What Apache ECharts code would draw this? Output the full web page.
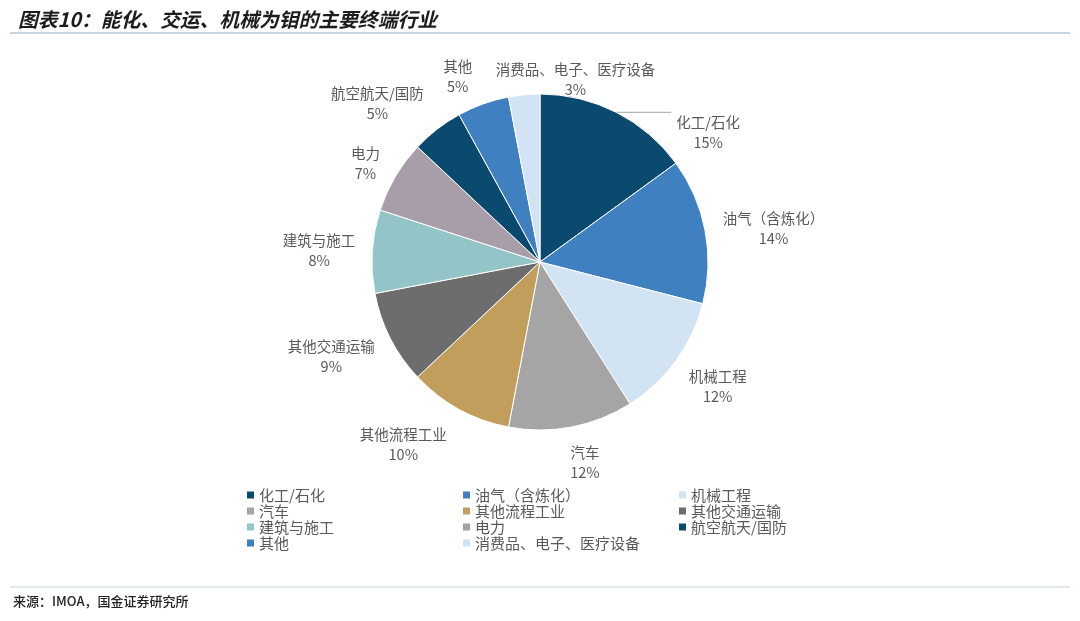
<!DOCTYPE html>
<html>
<head>
<meta charset="utf-8">
<script src="https://cdn.jsdelivr.net/npm/echarts@6/dist/echarts.min.js"></script>
<style>
  html, body { margin: 0; padding: 0; background: #fff; }
  #main { width: 1080px; height: 621px; }
</style>
</head>
<body>
<div id="main"></div>
<script>
var titleText = "图表10：能化、交运、机械为钼的主要终端行业";
var sourceText = "来源：IMOA，国金证券研究所";

var sectors = [
  "化工/石化", "油气（含炼化）", "机械工程", "汽车", "其他流程工业",
  "其他交通运输", "建筑与施工", "电力", "航空航天/国防", "其他",
  "消费品、电子、医疗设备"
];
var shares = [15, 14, 12, 12, 10, 9, 8, 7, 5, 5, 3];
var sectorColors = [
  "#0b4a6f", "#3f80c0", "#d2e4f3", "#a5a5a5", "#c29e5c",
  "#6d6d6d", "#92c4c8", "#a89ea9", "#0b4a6f", "#3f80c0",
  "#d2e4f3"
];
// how far each label sits from its slice: [length, length2]
var labelReach = [
  [0, 55], [13, 0], [43, -27], [36, -13], [40, -12],
  [41, -26], [12, 0], [26, -12], [33, -12], [29, -4],
  [15, 22]
];

var FONT = "'Noto Sans CJK SC', 'Noto Sans', sans-serif";
var chartDom = document.getElementById("main");
var myChart = echarts.init(chartDom);

var pieData = sectors.map(function (name, i) {
  return {
    name: name,
    value: shares[i],
    itemStyle: { color: sectorColors[i] },
    labelLine: {
      show: i === 0,
      length: labelReach[i][0],
      length2: labelReach[i][1]
    }
  };
});

var option = {
  backgroundColor: "#fff",
  animation: false,
  title: {
    text: titleText,
    left: 13,
    top: 5,
    textStyle: {
      fontFamily: FONT,
      fontSize: 19.8,
      fontWeight: "bold",
      fontStyle: "italic",
      color: "#1c1c1c"
    }
  },
  graphic: [
    {
      type: "line",
      shape: { x1: 10, y1: 33, x2: 1070, y2: 33 },
      style: { stroke: "#8fb0c5", lineWidth: 1 }
    },
    {
      type: "line",
      shape: { x1: 10, y1: 587, x2: 1070, y2: 587 },
      style: { stroke: "#c3d3dc", lineWidth: 1 }
    },
    {
      type: "text",
      left: 13,
      top: 595,
      style: {
        text: sourceText,
        fontFamily: FONT,
        fontSize: 13,
        fontWeight: 500,
        fill: "#222"
      }
    }
  ],
  legend: {
    left: 247,
    top: 487,
    width: 650,
    orient: "horizontal",
    icon: "rect",
    itemWidth: 7,
    itemHeight: 7,
    itemGap: 0,
    padding: 0,
    itemStyle: { borderWidth: 0 },
    textStyle: {
      fontFamily: FONT,
      fontSize: 15,
      color: "#595959",
      width: 204,
      lineHeight: 16
    },
    data: sectors
  },
  series: [
    {
      type: "pie",
      center: [540, 262],
      radius: 168,
      startAngle: 90,
      clockwise: true,
      avoidLabelOverlap: false,
      emphasis: { scale: false },
      itemStyle: { borderColor: "#fff", borderWidth: 1 },
      label: {
        position: "outside",
        formatter: "{n|{b}}\n{n|{c}%}",
        rich: {
          n: {
            align: "center",
            fontFamily: FONT,
            fontSize: 14.5,
            lineHeight: 20,
            color: "#595959"
          }
        }
      },
      labelLine: {
        lineStyle: { color: "#a6a6a6", width: 1 }
      },
      labelLayout: function (params) {
        if (params.dataIndex === 0) {
          return { verticalAlign: "top" };
        }
        if (params.dataIndex === sectors.length - 1) {
          return { align: "left" };
        }
      },
      data: pieData
    }
  ]
};

myChart.setOption(option);
</script>
</body>
</html>
